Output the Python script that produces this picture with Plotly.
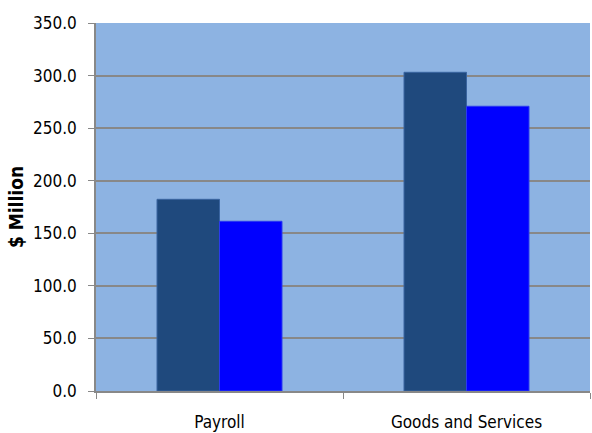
import plotly.graph_objects as go

categories = ["Payroll", "Goods and Services"]
series_a = [182.3, 303.1]
series_b = [161.4, 270.8]
y_ticks = [0, 50, 100, 150, 200, 250, 300, 350]

FONT = "DejaVu Sans Condensed"

fig = go.Figure()
fig.add_trace(go.Bar(x=categories, y=series_a, marker=dict(color="#1F497D", line=dict(color="#3A65A0", width=1))))
fig.add_trace(go.Bar(x=categories, y=series_b, marker=dict(color="#0000FF", line=dict(color="#2A3AF0", width=1))))

fig.update_layout(
    width=592, height=433,
    margin=dict(l=96, r=2, t=23, b=42),
    paper_bgcolor="white",
    plot_bgcolor="#8DB3E2",
    barmode="group",
    bargap=0.494,
    bargroupgap=0,
    showlegend=False,
    font=dict(family=FONT, color="#000000", size=17),
)
fig.update_yaxes(
    range=[0, 350],
    tickvals=y_ticks,
    ticktext=[f"{v:.1f}" for v in y_ticks],
    showgrid=True, gridcolor="#888888", gridwidth=1.5,
    showline=True, linecolor="#888888", linewidth=1.5,
    ticks="outside", ticklen=6, tickcolor="#888888",
    ticklabelstandoff=8,
    zeroline=False,
    title=dict(text="<b>$ Million</b>", font=dict(family=FONT, size=19), standoff=4),
    tickfont=dict(size=17),
)
fig.update_xaxes(
    showline=True, linecolor="#888888", linewidth=1.5,
    ticks="outside", ticklen=6, tickcolor="#888888",
    tickson="boundaries",
    ticklabelstandoff=15,
    tickfont=dict(size=17),
    mirror=False,
)
fig.write_html("out.html")
